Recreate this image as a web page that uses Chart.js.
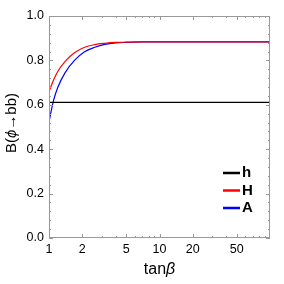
<!DOCTYPE html>
<html>
<head>
<meta charset="utf-8">
<script src="https://cdn.jsdelivr.net/npm/chart.js@4.4.0/dist/chart.umd.min.js"></script>
<style>
  html, body { margin: 0; padding: 0; background: #fff; }
  #wrap { width: 284px; height: 284px; }
</style>
</head>
<body>
<div id="wrap"><canvas id="chartBr"></canvas></div>
<script>
// tan(beta) sample points
var tanb = [1, 1.1, 1.2, 1.4, 1.7, 2.1, 2.6, 3.2, 4, 5, 7, 10, 20, 50, 100];
var brH_light = [0.611, 0.611, 0.611, 0.611, 0.611, 0.611, 0.611, 0.611, 0.611, 0.611, 0.611, 0.611, 0.611, 0.611, 0.611];
var brH_heavy = [0.659, 0.712, 0.75, 0.796, 0.834, 0.859, 0.871, 0.877, 0.881, 0.882, 0.883, 0.883, 0.883, 0.883, 0.883];
var brA = [0.524, 0.62, 0.678, 0.745, 0.80, 0.839, 0.859, 0.872, 0.879, 0.881, 0.883, 0.883, 0.883, 0.883, 0.883];

var xTicks = [1, 2, 5, 10, 20, 50];
var xMinor = [3, 4, 6, 7, 8, 9, 30, 40, 60, 70, 80, 90];
var yTicks = [0, 0.2, 0.4, 0.6, 0.8, 1.0];

var seriesNames = ['h', 'H', 'A'];
var seriesColors = ['#000000', '#ff0000', '#0000ff'];

var tickFont = '"Liberation Sans Narrow", "Liberation Sans", Arial, sans-serif';
var titleFont = '"Liberation Sans", Arial, sans-serif';

function pts(ys) {
    return tanb.map(function(x, i) { return {x: x, y: ys[i]}; });
}

var yMinor = [];
for (var k = 0; k <= 25; k++) {
    if (k % 5 !== 0) yMinor.push(k * 0.04);
}

// frame, inward ticks, axis titles, legend
var framePlugin = {
    id: 'frame',
    afterDraw: function(chart) {
        var ctx = chart.ctx, a = chart.chartArea;
        var xs = chart.scales.x, ys = chart.scales.y;
        ctx.save();
        ctx.strokeStyle = '#999';
        ctx.lineWidth = 1;
        ctx.strokeRect(a.left + 0.5, a.top + 0.5, a.right - a.left - 1, a.bottom - a.top - 1);
        ctx.beginPath();
        function vt(v, len) {
            var p = Math.round(xs.getPixelForValue(v)) + 0.5;
            ctx.moveTo(p, a.bottom); ctx.lineTo(p, a.bottom - len);
            ctx.moveTo(p, a.top); ctx.lineTo(p, a.top + len);
        }
        function ht(v, len) {
            var p = Math.round(ys.getPixelForValue(v)) + 0.5;
            ctx.moveTo(a.left, p); ctx.lineTo(a.left + len, p);
            ctx.moveTo(a.right, p); ctx.lineTo(a.right - len, p);
        }
        xTicks.forEach(function(v) { vt(v, 4); });
        xMinor.forEach(function(v) { vt(v, 2); });
        yTicks.forEach(function(v) { ht(v, 4); });
        yMinor.forEach(function(v) { ht(v, 2); });
        ctx.stroke();

        // axis titles
        ctx.fillStyle = '#000';
        ctx.textBaseline = 'middle';
        ctx.textAlign = 'left';
        var cx = (a.left + a.right) / 2;
        ctx.font = '16px ' + titleFont;
        var w1 = ctx.measureText('tan').width;
        ctx.font = 'italic 16px ' + titleFont;
        var w2 = ctx.measureText('β').width;
        var sx = cx - (w1 + w2) / 2;
        ctx.font = '16px ' + titleFont;
        ctx.fillText('tan', sx, 270);
        ctx.font = 'italic 16px ' + titleFont;
        ctx.fillText('β', sx + w1, 270);

        ctx.save();
        ctx.translate(12, 123);
        ctx.rotate(-Math.PI / 2);
        var parts = [['B(', ''], ['ϕ', 'italic '], ['→', ''], ['bb)', '']];
        var tw = 0;
        parts.forEach(function(p) { ctx.font = p[1] + '15px ' + titleFont; tw += ctx.measureText(p[0]).width; });
        var px = -tw / 2;
        parts.forEach(function(p) {
            ctx.font = p[1] + '15px ' + titleFont;
            ctx.fillText(p[0], px, 0);
            px += ctx.measureText(p[0]).width;
        });
        ctx.restore();

        // legend
        ctx.font = 'bold 15px ' + titleFont;
        ctx.lineWidth = 2.5;
        seriesNames.forEach(function(n, i) {
            var y = 173 + i * 17.5;
            ctx.strokeStyle = seriesColors[i];
            ctx.beginPath();
            ctx.moveTo(223, y); ctx.lineTo(240, y);
            ctx.stroke();
            ctx.fillStyle = '#000';
            ctx.fillText(n, 242, y);
        });
        ctx.restore();
    }
};

var ctxBr = document.getElementById('chartBr');
var chartBr = new Chart(ctxBr, {
    type: 'line',
    data: {
        datasets: [
            {label: 'h', data: pts(brH_light), borderColor: seriesColors[0], borderWidth: 1.2},
            {label: 'H', data: pts(brH_heavy), borderColor: seriesColors[1], borderWidth: 1.2},
            {label: 'A', data: pts(brA), borderColor: seriesColors[2], borderWidth: 1.2}
        ]
    },
    options: {
        responsive: true,
        maintainAspectRatio: false,
        animation: false,
        elements: {
            point: {radius: 0},
            line: {cubicInterpolationMode: 'monotone'}
        },
        layout: {padding: {left: 0, right: 14, top: 16, bottom: 0}},
        plugins: {
            legend: {display: false},
            tooltip: {enabled: false}
        },
        scales: {
            x: {
                type: 'logarithmic',
                min: 1,
                max: 100,
                grid: {display: false, drawTicks: false},
                border: {display: false},
                afterBuildTicks: function(scale) {
                    scale.ticks = xTicks.map(function(v) { return {value: v}; });
                },
                afterFit: function(scale) { scale.height = 46; },
                ticks: {
                    color: '#000',
                    padding: 4,
                    maxRotation: 0,
                    autoSkip: false,
                    font: {family: tickFont, size: 12.5},
                    callback: function(v) { return String(v); }
                }
            },
            y: {
                min: 0,
                max: 1,
                grid: {display: false, drawTicks: false},
                border: {display: false},
                afterBuildTicks: function(scale) {
                    scale.ticks = yTicks.map(function(v) { return {value: v}; });
                },
                afterFit: function(scale) { scale.width = 49; },
                ticks: {
                    color: '#000',
                    padding: 5,
                    font: {family: tickFont, size: 12.5},
                    callback: function(v) { return v.toFixed(1); }
                }
            }
        }
    },
    plugins: [framePlugin]
});
</script>
</body>
</html>
